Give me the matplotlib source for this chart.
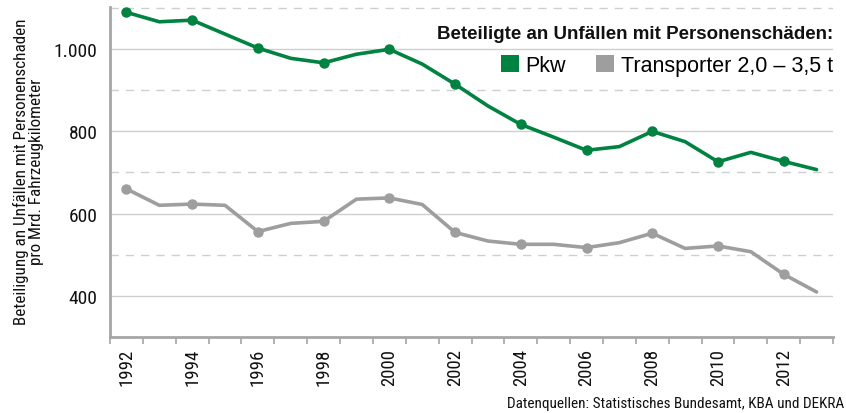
import numpy as np
import matplotlib
matplotlib.use("Agg")
import matplotlib.pyplot as plt
from matplotlib import font_manager
from matplotlib.patches import Patch

# Daten
jahre = list(range(1992, 2014))
pkw = [1090, 1067, 1071, 1037, 1003, 978, 967, 988, 1000, 964, 915,
       862, 817, 786, 754, 763, 800, 775, 726, 749, 727, 707]
transporter = [660, 620, 623, 620, 556, 576, 581, 635, 638, 622, 554,
               533, 525, 525, 517, 529, 552, 515, 521, 507, 452, 409]
ytick_werte = [400, 600, 800, 1000]
ytick_labels = ["400", "600", "800", "1.000"]
dash_werte = [500, 700, 900, 1100]

titel = "Beteiligte an Unfällen mit Personenschäden:"
ylabel = "Beteiligung an Unfällen mit Personenschaden\npro Mrd. Fahrzeugkilometer"
quelle = "Datenquellen: Statistisches Bundesamt, KBA und DEKRA"

GRUEN = "#008241"
GRAU = "#9e9e9e"
ACHSE = "#a6a6a6"
GITTER = "#cfcfcf"

# schmale Schrift suchen, sonst DejaVu
namen = {f.name for f in font_manager.fontManager.ttflist}
schmal = None
for n in ["Liberation Sans Narrow", "Roboto Condensed", "DejaVu Sans Condensed"]:
    if n in namen:
        schmal = n
        break
if schmal is None:
    schmal_fp = dict(family="DejaVu Sans", stretch="condensed")
else:
    schmal_fp = dict(family=schmal)
normal = "Liberation Sans" if "Liberation Sans" in namen else "DejaVu Sans"

fig = plt.figure(figsize=(8.46, 4.14), dpi=100)
W, H = 846, 414
ax = fig.add_axes([110 / W, 1 - 337.7 / H, (833 - 110) / W, (337.7 - 8) / H])

x = np.arange(len(jahre))
ax.set_xlim(-0.5, len(jahre) - 0.5)
ax.set_ylim(300, 1103)

# Gitter
for v in ytick_werte:
    ax.axhline(v, color=GITTER, lw=1.0, zorder=1)
for v in dash_werte:
    ax.axhline(v, color=GITTER, lw=1.0, ls=(0, (6, 5)), zorder=1)

# Linien, Punkte nur bei geraden Jahren
ax.plot(x, transporter, color=GRAU, lw=2.6, solid_capstyle="round", zorder=3)
ax.plot(x[::2], transporter[::2], "o", color=GRAU, ms=6.5, zorder=4)
ax.plot(x, pkw, color=GRUEN, lw=2.6, solid_capstyle="round", zorder=3)
ax.plot(x[::2], pkw[::2], "o", color=GRUEN, ms=6.5, zorder=4)

# Achsen
for s in ["top", "right"]:
    ax.spines[s].set_visible(False)
for s in ["left", "bottom"]:
    ax.spines[s].set_color(ACHSE)
    ax.spines[s].set_linewidth(2.0)

ax.set_yticks(ytick_werte)
ax.set_yticklabels(ytick_labels, fontsize=14, color="#111111", **schmal_fp)
ax.tick_params(axis="y", length=0, pad=9)

ax.set_xticks(np.arange(-0.5, len(jahre), 1.0))
ax.set_xticklabels([])
ax.tick_params(axis="x", which="major", length=5, width=1.2, color=ACHSE)
ax.set_xticks(x[::2], minor=True)
ax.set_xticklabels([str(j) for j in jahre[::2]], minor=True, rotation=90,
                   fontsize=13.5, color="#111111", **schmal_fp)
ax.tick_params(axis="x", which="minor", length=0, pad=8)

# Legende
ax.text(1.0, 0.921, titel, transform=ax.transAxes, ha="right", va="center",
        fontsize=13.5, fontweight="bold", family=normal, color="#111111")
handles = [Patch(facecolor=GRUEN, edgecolor="none", label="Pkw"),
           Patch(facecolor=GRAU, edgecolor="none", label="Transporter 2,0 – 3,5 t")]
leg = ax.legend(handles=handles, loc="center right", bbox_to_anchor=(1.0, 0.824),
                ncol=2, frameon=False, borderpad=0, borderaxespad=0,
                handlelength=0.85, handleheight=0.85, handletextpad=0.3,
                columnspacing=1.4, prop=dict(family=normal, size=15.5))

fig.text(28 / W, 1 - 172 / H, ylabel, rotation=90, ha="center", va="center",
         fontsize=12.3, linespacing=1.0, color="#111111", **schmal_fp)
fig.text(844 / W, 1 - 404 / H, quelle, ha="right", va="center",
         fontsize=11, color="#111111", **schmal_fp)

fig.savefig("out.png", dpi=100)
